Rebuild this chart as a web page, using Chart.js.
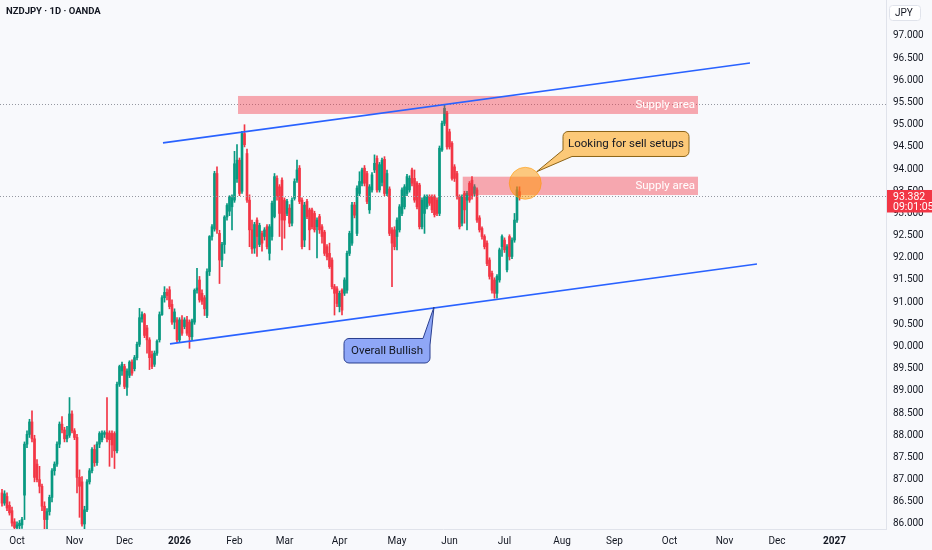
<!DOCTYPE html>
<html>
<head>
<meta charset="utf-8">
<title>NZDJPY 1D</title>
<script src="https://cdn.jsdelivr.net/npm/chart.js"></script>
<style>
  html, body { margin: 0; padding: 0; background: #f8f9fc; }
  canvas { display: block; }
</style>
</head>
<body>
<canvas id="chart" width="932" height="550"></canvas>
<script>
// daily candles, bar index 0 = 1 Oct 2025 (weekends skipped)
const firstBar = -6;
const opens = [
  86.70,86.47,86.62,86.42,86.30,86.05,85.92,85.96,85.98,86.65,
  87.80,88.02,88.30,87.92,87.35,87.00,86.85,86.40,86.10,86.28,
  86.60,87.20,87.35,87.80,88.25,88.12,87.92,88.00,88.48,88.10,
  87.95,87.05,86.95,86.00,86.32,86.95,87.20,87.68,87.38,87.80,
  87.90,88.02,88.06,88.05,88.04,88.04,87.65,89.15,89.45,89.55,
  89.08,89.35,89.65,89.50,89.75,90.05,90.62,90.72,90.42,90.15,
  89.82,89.60,89.85,90.15,90.72,91.10,91.22,91.28,90.95,90.55,
  90.60,90.15,90.60,90.45,90.60,90.55,90.22,90.55,91.27,91.50,
  91.20,91.10,90.70,91.69,92.48,92.65,93.90,92.55,91.95,92.30,
  92.92,93.05,93.15,93.30,93.78,94.20,93.50,94.80,94.35,93.30,
  92.63,92.22,92.85,92.30,92.55,92.48,92.70,92.10,92.48,92.93,
  93.79,93.60,93.75,93.30,93.00,93.12,92.78,93.34,93.75,94.02,
  93.30,92.40,93.27,93.08,93.08,93.00,92.70,92.93,92.70,92.58,
  92.25,92.10,91.95,91.35,91.30,90.90,91.27,91.20,91.27,92.10,
  92.33,93.19,92.55,93.45,93.68,94.02,93.90,93.08,93.53,93.98,
  94.24,93.53,93.70,94.22,93.45,93.55,92.63,92.63,92.48,92.63,
  93.00,93.15,93.45,93.53,93.98,93.79,93.68,93.64,92.70,93.00,
  93.15,93.38,93.38,93.38,93.30,93.00,94.43,95.03,95.26,94.84,
  94.58,94.05,93.90,93.38,92.78,93.45,93.30,93.68,93.75,93.45,
  93.53,92.90,92.66,92.48,92.33,91.95,91.65,91.50,91.20,91.50,
  92.25,92.40,91.73,92.48,92.03,92.40,92.85,93.49
];
const highs = [
  86.78,86.75,86.70,86.50,86.38,86.12,86.05,86.08,86.15,87.85,
  88.10,88.36,88.55,88.00,87.45,87.30,86.90,86.50,86.35,86.65,
  87.25,87.40,87.85,88.30,88.42,88.18,88.20,88.85,88.55,88.15,
  88.02,87.22,87.07,86.40,87.00,87.25,87.72,87.78,87.85,88.08,
  88.10,88.10,88.85,88.10,88.10,88.08,89.20,89.58,89.65,89.60,
  89.50,89.68,89.70,89.80,90.10,90.86,90.78,90.75,90.48,90.20,
  89.90,89.90,90.15,90.78,91.15,91.35,91.30,91.35,91.05,90.85,
  90.65,90.65,90.70,90.65,90.68,90.60,90.62,91.30,91.76,91.58,
  91.28,91.15,91.75,92.50,92.75,93.95,94.05,92.62,92.35,92.95,
  93.22,93.40,93.42,94.40,94.55,94.25,94.85,95.00,94.45,93.42,
  92.85,92.80,92.90,92.78,92.60,92.68,92.75,92.75,93.28,93.90,
  93.85,93.65,93.80,93.35,93.32,93.20,93.35,93.78,94.20,94.08,
  93.35,93.25,93.32,93.12,93.12,93.05,92.90,92.98,92.75,92.62,
  92.30,92.33,92.00,91.40,91.35,91.25,91.30,91.55,92.15,92.60,
  93.25,93.25,93.62,93.94,94.02,94.08,93.95,93.65,93.92,94.32,
  94.30,94.15,94.25,94.28,93.98,93.60,92.68,92.70,92.90,93.20,
  93.58,93.65,93.88,93.85,94.02,93.98,93.72,93.68,93.35,93.42,
  93.42,93.42,93.42,93.42,93.35,94.52,95.08,95.45,95.30,94.90,
  94.62,94.10,93.95,93.42,93.42,93.50,93.50,93.72,93.83,93.65,
  93.58,92.95,92.70,92.52,92.38,92.00,91.70,91.55,91.62,92.22,
  92.52,92.45,92.30,92.52,92.45,93.00,93.60,93.60
];
const lows = [
  86.40,86.42,86.30,86.20,85.95,85.85,85.86,85.88,85.90,86.10,
  87.72,87.95,87.85,86.95,86.95,86.70,86.30,85.87,85.85,86.20,
  86.50,87.10,87.30,87.72,88.05,87.85,87.85,87.95,88.05,87.90,
  86.70,86.15,85.95,85.87,86.28,86.90,87.15,87.30,87.32,87.72,
  87.85,87.95,87.85,87.30,87.50,87.25,87.60,89.10,89.35,89.05,
  88.90,89.30,89.35,89.45,89.70,90.00,90.55,90.20,89.85,89.48,
  89.50,89.55,89.80,90.10,90.70,91.00,91.05,90.85,90.50,90.40,
  90.10,90.10,90.25,90.40,90.25,89.96,90.15,90.50,91.20,91.00,
  90.95,90.70,90.65,91.60,92.40,92.60,92.55,91.42,91.80,92.10,
  92.85,92.95,92.63,93.25,93.70,93.40,93.45,94.50,93.25,92.25,
  92.10,92.10,92.03,92.25,92.15,92.40,92.20,91.95,92.40,92.90,
  93.30,92.48,92.18,92.44,92.95,92.70,92.72,93.30,93.70,93.22,
  92.20,92.25,92.88,92.18,92.65,92.58,92.00,92.55,92.33,92.05,
  91.95,91.76,91.30,90.71,90.90,90.78,90.71,91.15,91.20,92.05,
  92.28,92.90,92.50,93.40,93.62,93.62,93.22,93.00,93.48,93.92,
  93.48,93.48,93.62,93.40,93.40,92.50,91.35,92.18,92.18,92.58,
  92.95,93.10,93.40,93.48,93.62,93.25,93.10,92.65,92.65,92.55,
  93.10,93.18,93.02,92.92,92.95,92.95,94.40,94.98,94.45,94.45,
  93.75,93.72,93.32,92.65,92.72,92.78,92.63,93.25,93.32,93.40,
  92.80,92.58,92.42,92.20,91.82,91.52,91.20,91.09,91.09,91.45,
  92.03,92.12,91.68,91.95,91.98,92.35,92.80,93.30
];
const closes = [
  86.47,86.68,86.36,86.25,86.02,85.92,85.98,86.02,86.10,87.80,
  88.02,88.30,87.92,87.05,87.00,86.85,86.40,86.10,86.28,86.60,
  87.20,87.35,87.80,88.25,88.12,87.92,88.00,88.48,88.10,87.95,
  87.05,86.85,86.00,86.32,86.95,87.20,87.68,87.38,87.80,88.04,
  88.05,88.06,87.92,87.90,87.78,87.65,89.15,89.55,89.60,89.10,
  89.45,89.65,89.40,89.75,90.05,90.65,90.72,90.25,90.15,89.75,
  89.55,89.85,90.12,90.72,91.10,91.22,91.15,90.90,90.55,90.78,
  90.15,90.60,90.30,90.60,90.30,90.22,90.58,91.27,91.32,91.05,
  91.02,90.85,91.69,92.48,92.70,93.90,92.63,91.95,92.30,92.92,
  93.18,93.38,93.35,94.12,94.20,93.45,94.80,94.55,93.30,92.63,
  92.20,92.75,92.48,92.73,92.33,92.63,92.25,92.70,93.23,93.83,
  93.38,93.00,92.85,92.85,93.27,92.78,93.30,93.72,93.98,93.27,
  92.25,93.19,92.93,92.63,92.70,92.63,92.85,92.63,92.48,92.10,
  92.02,91.80,91.35,91.20,90.97,91.20,90.82,91.50,92.10,92.55,
  93.19,92.96,93.57,93.72,93.98,93.68,93.27,93.60,93.87,94.13,
  93.53,94.10,94.20,93.45,93.90,92.55,92.33,92.25,92.85,93.15,
  93.53,93.60,93.83,93.79,93.68,93.30,93.15,92.70,93.30,93.38,
  93.38,93.23,93.08,92.97,93.00,94.47,95.03,95.37,94.50,94.50,
  93.79,93.79,93.38,92.70,93.38,93.08,93.45,93.30,93.38,93.60,
  92.85,92.63,92.48,92.25,91.87,91.58,91.27,91.20,91.58,92.18,
  92.48,92.18,92.25,92.03,92.40,92.85,93.53,93.38
];

const monthTicks = [0, 23, 43, 65, 87, 107, 129, 152, 173, 195, 218, 239, 261, 283, 304, 327];
const monthLabels = ['Oct', 'Nov', 'Dec', '2026', 'Feb', 'Mar', 'Apr', 'May', 'Jun', 'Jul', 'Aug', 'Sep', 'Oct', 'Nov', 'Dec', '2027'];
const priceTicks = [86, 86.5, 87, 87.5, 88, 88.5, 89, 89.5, 90, 90.5, 91, 91.5, 92, 92.5, 93, 93.5, 94, 94.5, 95, 95.5, 96, 96.5, 97];

const lastPrice = 93.382;
const countdownText = '09:01:05';
const highLine = 95.47;

// drawings, in bar index / price units
const trendLines = [
  [[58.4, 94.59], [293.2, 96.39]],
  [[61.2, 90.06], [296.0, 91.86]]
];
const supplyZones = [
  { x0: 88.4, x1: 272.4, top: 95.648, bottom: 95.242 },
  { x0: 178.3, x1: 272.4, top: 93.828, bottom: 93.416 }
];
const circleMark = { x: 203.3, y: 93.68 };
const sellCallout = {
  text: 'Looking for sell setups',
  center: [243.6, 94.566],
  shape: [[218.4, 94.847, 5], [268.8, 94.847, 5], [268.8, 94.284, 5], [222.0, 94.284, 0], [207.9, 93.941, 0], [218.4, 94.430, 0]]
};
const bullCallout = {
  text: 'Overall Bullish',
  center: [148.0, 89.906],
  shape: [[130.8, 90.181, 5], [162.4, 90.181, 0], [166.8, 90.891, 0], [165.2, 90.035, 0], [165.2, 89.629, 5], [130.8, 89.629, 5]]
};

const UP = '#089981';
const DOWN = '#f23645';
const TEXT = '#131722';
const FONT = 'Roboto, "Noto Sans", sans-serif';

const candleColors = opens.map((o, i) => closes[i] >= o ? UP : DOWN);
const wickData = opens.map((o, i) => ({ x: firstBar + i, y: [lows[i], highs[i]] }));
const bodyData = opens.map((o, i) => ({ x: firstBar + i, y: [Math.min(o, closes[i]), Math.max(o, closes[i])] }));

function shapePath(ctx, xs, ys, pts) {
  const p = pts.map(([a, b, r]) => ({ x: xs.getPixelForValue(a), y: ys.getPixelForValue(b), r }));
  const n = p.length;
  ctx.beginPath();
  ctx.moveTo((p[n - 1].x + p[0].x) / 2, (p[n - 1].y + p[0].y) / 2);
  for (let i = 0; i < n; i++) {
    const a = p[i], b = p[(i + 1) % n];
    ctx.arcTo(a.x, a.y, b.x, b.y, a.r);
  }
  ctx.closePath();
}

function drawCallout(ctx, xs, ys, c, fill, stroke) {
  shapePath(ctx, xs, ys, c.shape);
  ctx.fillStyle = fill;
  ctx.fill();
  ctx.lineWidth = 1;
  ctx.strokeStyle = stroke;
  ctx.stroke();
  ctx.fillStyle = TEXT;
  ctx.font = '11.5px ' + FONT;
  ctx.textAlign = 'center';
  ctx.textBaseline = 'middle';
  ctx.fillText(c.text, xs.getPixelForValue(c.center[0]), ys.getPixelForValue(c.center[1]) + 0.5);
}

// no edge padding, so the plot fills the canvas up to the axes
function noPad(s) {
  s.paddingTop = 0;
  s.paddingBottom = 0;
  s.paddingLeft = 0;
  s.paddingRight = 0;
}

const drawings = {
  id: 'drawings',
  afterDatasetsDraw(chart) {
    const { ctx, chartArea: a, scales: { x, y } } = chart;
    ctx.save();
    ctx.beginPath();
    ctx.rect(a.left, a.top, a.width, a.height);
    ctx.clip();

    // dotted horizontal lines
    ctx.setLineDash([1, 2]);
    ctx.lineWidth = 1;
    ctx.strokeStyle = '#9598a1';
    [highLine, lastPrice].forEach(p => {
      const py = Math.round(y.getPixelForValue(p)) + 0.5;
      ctx.beginPath();
      ctx.moveTo(a.left, py);
      ctx.lineTo(a.right, py);
      ctx.stroke();
    });
    ctx.setLineDash([]);

    // supply zones
    supplyZones.forEach(z => {
      const x0 = x.getPixelForValue(z.x0), x1 = x.getPixelForValue(z.x1);
      const y0 = y.getPixelForValue(z.top), y1 = y.getPixelForValue(z.bottom);
      ctx.fillStyle = 'rgba(242, 54, 69, 0.42)';
      ctx.fillRect(x0, y0, x1 - x0, y1 - y0);
      ctx.fillStyle = '#ffffff';
      ctx.font = '11.5px ' + FONT;
      ctx.textAlign = 'right';
      ctx.textBaseline = 'middle';
      ctx.fillText('Supply area', x1 - 3, (y0 + y1) / 2 + 0.5);
    });

    // trend lines
    ctx.strokeStyle = '#2962ff';
    ctx.lineWidth = 1.6;
    trendLines.forEach(([p0, p1]) => {
      ctx.beginPath();
      ctx.moveTo(x.getPixelForValue(p0[0]), y.getPixelForValue(p0[1]));
      ctx.lineTo(x.getPixelForValue(p1[0]), y.getPixelForValue(p1[1]));
      ctx.stroke();
    });

    // circle
    ctx.beginPath();
    ctx.arc(x.getPixelForValue(circleMark.x), y.getPixelForValue(circleMark.y), 16, 0, Math.PI * 2);
    ctx.fillStyle = 'rgba(255, 152, 0, 0.5)';
    ctx.fill();
    ctx.strokeStyle = 'rgba(255, 152, 0, 0.55)';
    ctx.lineWidth = 1;
    ctx.stroke();

    drawCallout(ctx, x, y, sellCallout, '#fcc978', '#8c6418');
    drawCallout(ctx, x, y, bullCallout, '#8fa7f7', '#2a3f8f');

    ctx.restore();

    // title
    ctx.save();
    ctx.fillStyle = TEXT;
    ctx.font = 'bold 9.5px ' + FONT;
    ctx.textAlign = 'left';
    ctx.textBaseline = 'middle';
    ctx.fillText('NZDJPY \u00b7 1D \u00b7 OANDA', 6, 12);
    ctx.restore();
  },
  afterDraw(chart) {
    const { ctx, chartArea: a, scales: { y } } = chart;
    ctx.save();
    // last price label
    const py = y.getPixelForValue(lastPrice);
    ctx.fillStyle = '#f23645';
    ctx.fillRect(a.right + 1, py - 6.5, 932 - a.right - 1, 22.5);
    ctx.fillStyle = '#ffffff';
    ctx.font = '10.5px ' + FONT;
    ctx.textAlign = 'left';
    ctx.textBaseline = 'middle';
    ctx.fillText(lastPrice.toFixed(3), a.right + 7, py + 0.5);
    ctx.fillText(countdownText, a.right + 7, py + 10.5);

    // currency box
    ctx.fillStyle = '#ffffff';
    ctx.strokeStyle = '#e0e3eb';
    ctx.beginPath();
    ctx.roundRect(a.right + 3.5, 5.5, 31, 15, 3);
    ctx.fill();
    ctx.stroke();
    ctx.fillStyle = TEXT;
    ctx.font = '10px ' + FONT;
    ctx.fillText('JPY', a.right + 9, 13);
    ctx.restore();
  }
};

new Chart(document.getElementById('chart'), {
  type: 'bar',
  data: {
    datasets: [
      {
        data: wickData,
        backgroundColor: candleColors,
        barThickness: 1,
        grouped: false,
        order: 2
      },
      {
        data: bodyData,
        backgroundColor: candleColors,
        barThickness: 2,
        minBarLength: 1,
        grouped: false,
        order: 1
      }
    ]
  },
  options: {
    responsive: false,
    animation: false,
    events: [],
    layout: { padding: 0 },
    plugins: {
      legend: { display: false },
      tooltip: { enabled: false }
    },
    scales: {
      x: {
        type: 'linear',
        min: -6.8,
        max: 347.6,
        offset: false,
        grid: { display: false, drawTicks: false },
        border: { display: true, color: '#e0e3eb' },
        afterBuildTicks: s => { s.ticks = monthTicks.map(v => ({ value: v })); },
        afterFit: s => { s.height = 21; noPad(s); },
        ticks: {
          autoSkip: false,
          maxRotation: 0,
          padding: 6,
          color: TEXT,
          font: c => ({ family: FONT, size: 10, weight: /^\d{4}$/.test(monthLabels[c.index]) ? 'bold' : 'normal' }),
          callback: (v, i) => monthLabels[i]
        }
      },
      y: {
        position: 'right',
        min: 85.887,
        max: 97.811,
        grid: { display: false, drawTicks: false },
        border: { display: true, color: '#e0e3eb' },
        afterBuildTicks: s => { s.ticks = priceTicks.map(v => ({ value: v })); },
        afterFit: s => { s.width = 46; noPad(s); },
        ticks: {
          padding: 7,
          color: TEXT,
          font: { family: FONT, size: 10 },
          callback: v => Number(v).toFixed(3)
        }
      }
    }
  },
  plugins: [drawings]
});
</script>
</body>
</html>
